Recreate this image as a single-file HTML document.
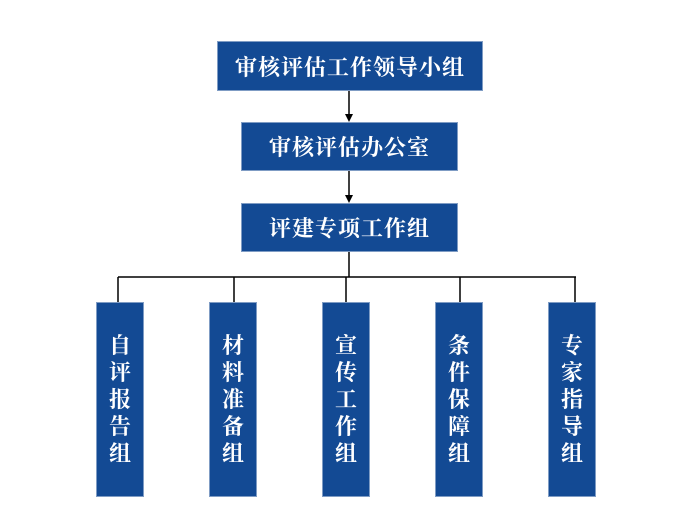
<!DOCTYPE html>
<html><head><meta charset="utf-8"><style>
html,body{margin:0;padding:0;background:#fff;}
body{width:700px;height:525px;position:relative;overflow:hidden;font-family:"Liberation Serif","Noto Serif CJK SC",serif;}
.b{position:absolute;background:#134a94;border:1px solid #7f9cc4;box-sizing:border-box;color:#fff;font-weight:bold;display:flex;align-items:center;justify-content:center;}
.h{font-size:22px;letter-spacing:1px;}
.v{font-size:22px;line-height:27px;flex-direction:column;top:302px;height:195px;width:48px;}
</style></head><body>
<div class="b h" style="left:217px;top:41px;width:266px;height:50px;">审核评估工作领导小组</div>
<div class="b h" style="left:241px;top:122px;width:217px;height:49px;">审核评估办公室</div>
<div class="b h" style="left:241px;top:203px;width:217px;height:49px;">评建专项工作组</div>
<svg width="700" height="525" style="position:absolute;left:0;top:0;">
<g stroke="#000" stroke-width="1.5" fill="none">
<line x1="349" y1="91" x2="349" y2="115"/>
<line x1="349" y1="171" x2="349" y2="196"/>
<line x1="349" y1="252" x2="349" y2="277"/>
<line x1="118" y1="277" x2="576" y2="277"/>
<line x1="118" y1="277" x2="118" y2="302"/>
<line x1="234" y1="277" x2="234" y2="302"/>
<line x1="346" y1="277" x2="346" y2="302"/>
<line x1="460" y1="277" x2="460" y2="302"/>
<line x1="575" y1="277" x2="575" y2="302"/>
</g>
<polygon points="345,114 353,114 349,122" fill="#000"/>
<polygon points="345,195 353,195 349,203" fill="#000"/>
</svg>
<div class="b v" style="left:96px;"><span>自</span><span>评</span><span>报</span><span>告</span><span>组</span></div>
<div class="b v" style="left:209px;"><span>材</span><span>料</span><span>准</span><span>备</span><span>组</span></div>
<div class="b v" style="left:322px;"><span>宣</span><span>传</span><span>工</span><span>作</span><span>组</span></div>
<div class="b v" style="left:435px;"><span>条</span><span>件</span><span>保</span><span>障</span><span>组</span></div>
<div class="b v" style="left:548px;"><span>专</span><span>家</span><span>指</span><span>导</span><span>组</span></div>
</body></html>
